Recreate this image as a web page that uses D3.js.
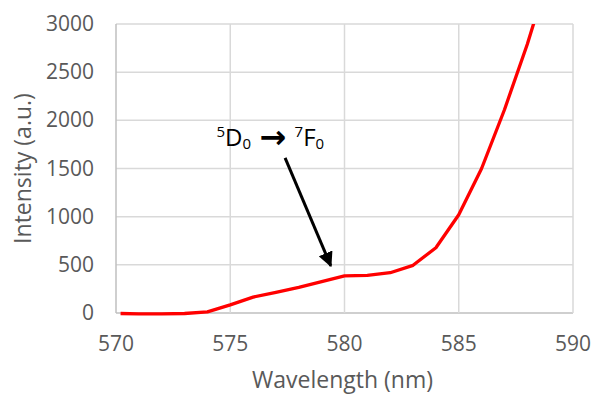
<!DOCTYPE html>
<html lang="en">
<head>
  <meta charset="UTF-8">
  <title>Emission spectrum</title>
  <script src="https://d3js.org/d3.v7.min.js"></script>
  <style>
    body { margin: 0; background: #fff; }
    svg text { font-family: "Open Sans", "DejaVu Sans", sans-serif; }
  </style>
</head>
<body>
  <div id="chart"></div>
  <script>
    // wavelength (nm) and intensity (a.u.)
    const wavelengths = [570.2, 571, 572, 573, 574, 575, 576, 577, 578, 579, 580, 581, 582, 583, 584, 585, 586, 587, 588, 589]
    const intensities = [-5, -10, -10, -5, 12, 85, 165, 215, 265, 325, 385, 390, 418, 495, 678, 1020, 1500, 2110, 2790, 3560]
    const xTicks = [570, 575, 580, 585, 590]
    const yTicks = [0, 500, 1000, 1500, 2000, 2500, 3000]

    const width = 593
    const height = 394
    const margin = { top: 24, right: 20, bottom: 81, left: 116 }

    const svg = d3.select('#chart').append('svg')
      .attr('width', width)
      .attr('height', height)

    const x = d3.scaleLinear()
      .domain([570, 590])
      .range([margin.left, width - margin.right])

    const y = d3.scaleLinear()
      .domain([0, 3000])
      .range([height - margin.bottom, margin.top])

    // gridlines
    svg.append('g')
      .selectAll('line')
      .data(yTicks)
      .enter().append('line')
      .attr('x1', x(570)).attr('x2', x(590))
      .attr('y1', d => y(d)).attr('y2', d => y(d))
      .attr('stroke', d => d === 0 ? '#bfbfbf' : '#d9d9d9')
      .attr('stroke-width', 1.5)

    svg.append('g')
      .selectAll('line')
      .data(xTicks)
      .enter().append('line')
      .attr('x1', d => x(d)).attr('x2', d => x(d))
      .attr('y1', y(0)).attr('y2', y(3000))
      .attr('stroke', d => d === 570 ? '#bfbfbf' : '#d9d9d9')
      .attr('stroke-width', 1.5)

    // tick labels
    svg.append('g')
      .selectAll('text')
      .data(yTicks)
      .enter().append('text')
      .attr('x', x(570) - 22)
      .attr('y', d => y(d) + 7)
      .attr('text-anchor', 'end')
      .attr('fill', '#595959')
      .style('font-size', '21px')
      .text(d => d)

    svg.append('g')
      .selectAll('text')
      .data(xTicks)
      .enter().append('text')
      .attr('x', d => x(d))
      .attr('y', y(0) + 38)
      .attr('text-anchor', 'middle')
      .attr('fill', '#595959')
      .style('font-size', '21px')
      .text(d => d)

    // axis titles
    svg.append('text')
      .attr('x', (x(570) + x(590)) / 2 - 2)
      .attr('y', 388)
      .attr('text-anchor', 'middle')
      .attr('fill', '#595959')
      .style('font-size', '23px')
      .text('Wavelength (nm)')

    svg.append('text')
      .attr('transform', `translate(31, ${(y(0) + y(3000)) / 2}) rotate(-90)`)
      .attr('text-anchor', 'middle')
      .attr('fill', '#595959')
      .style('font-size', '23px')
      .text('Intensity (a.u.)')

    // spectrum line
    svg.append('clipPath').attr('id', 'plot')
      .append('rect')
      .attr('x', x(570)).attr('y', y(3000))
      .attr('width', x(590) - x(570)).attr('height', y(0) - y(3000) + 4)

    const line = d3.line()
      .x((d, i) => x(wavelengths[i]))
      .y(d => y(d))

    svg.append('path')
      .datum(intensities)
      .attr('clip-path', 'url(#plot)')
      .attr('d', line)
      .attr('fill', 'none')
      .attr('stroke', '#ff0000')
      .attr('stroke-width', 3.3)
      .attr('stroke-linejoin', 'round')

    // annotation
    svg.append('defs').append('marker')
      .attr('id', 'head')
      .attr('viewBox', '0 0 10 10')
      .attr('refX', 9).attr('refY', 5)
      .attr('markerWidth', 5).attr('markerHeight', 5)
      .attr('markerUnits', 'strokeWidth')
      .attr('orient', 'auto')
      .append('path')
      .attr('d', 'M0,0 L10,5 L0,10 Z')
      .attr('fill', '#000')

    svg.append('line')
      .attr('x1', x(577.4)).attr('y1', y(1610))
      .attr('x2', x(579.4)).attr('y2', y(490))
      .attr('stroke', '#000')
      .attr('stroke-width', 3)
      .attr('marker-end', 'url(#head)')

    const label = svg.append('text')
      .attr('x', x(574.4))
      .attr('y', y(1735))
      .attr('fill', '#000')
      .style('font-size', '24px')
    label.append('tspan').attr('dy', -9).style('font-size', '15px').text('5')
    label.append('tspan').attr('dy', 9).text('D')
    label.append('tspan').attr('dy', 3).style('font-size', '15px').text('0')
    label.append('tspan').attr('dy', -1).style('font-size', '32px').style('font-weight', 'bold').text(' \u2192 ')
    label.append('tspan').attr('dy', -11).style('font-size', '15px').text('7')
    label.append('tspan').attr('dy', 9).text('F')
    label.append('tspan').attr('dy', 3).style('font-size', '15px').text('0')
  </script>
</body>
</html>
